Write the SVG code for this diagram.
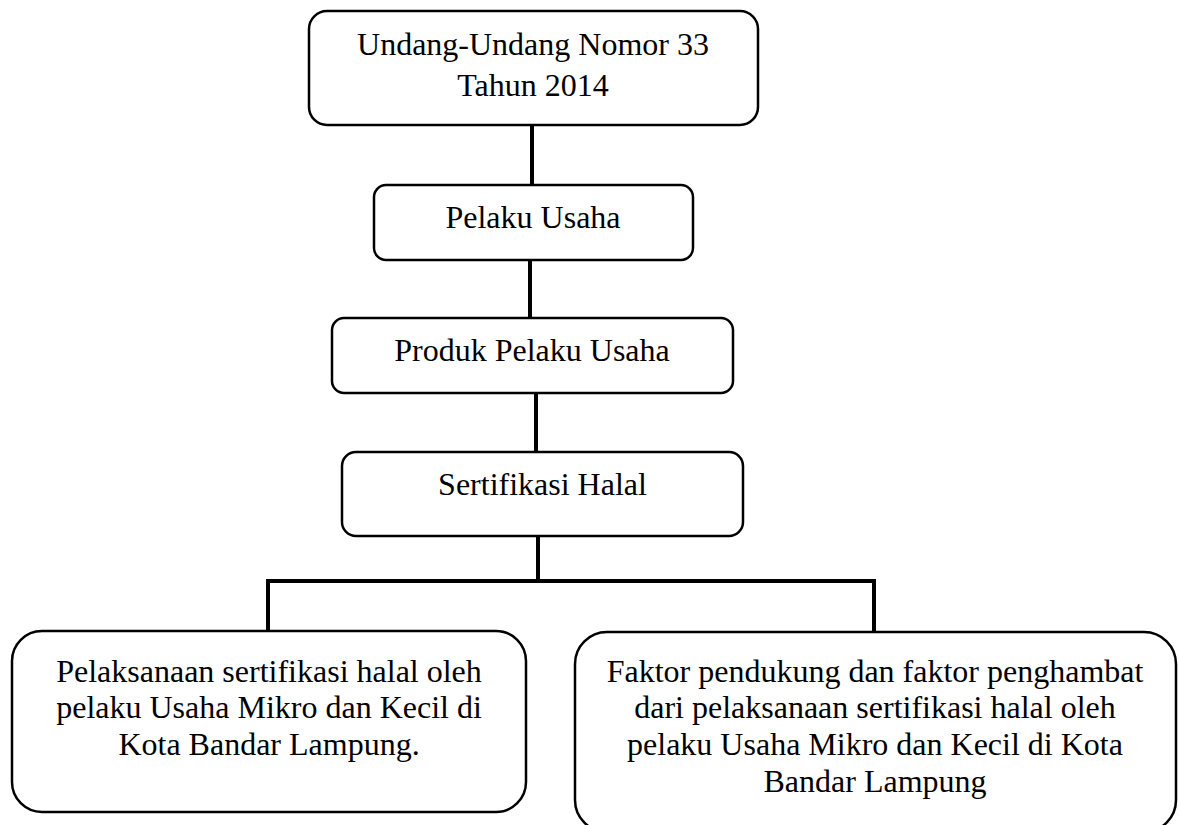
<svg xmlns="http://www.w3.org/2000/svg" width="1179" height="825" viewBox="0 0 1179 825">
  <style>
    .box { fill: #ffffff; stroke: #000000; stroke-width: 2.5; }
    .conn { stroke: #000000; stroke-width: 4; fill: none; stroke-linecap: butt; }
    .t { font-family: "Liberation Serif", "Times New Roman", serif; font-size: 32px; fill: #000000; text-anchor: middle; }
  </style>
  <rect x="0" y="0" width="1179" height="825" fill="#ffffff"/>
  <g id="connectors">
    <line class="conn" x1="532" y1="125" x2="532" y2="185"/>
    <line class="conn" x1="530" y1="260" x2="530" y2="318"/>
    <line class="conn" x1="536" y1="393" x2="536" y2="452"/>
    <line class="conn" x1="538" y1="536" x2="538" y2="581"/>
    <polyline class="conn" points="268,631 268,581 874,581 874,632"/>
  </g>
  <g id="node-uu">
    <rect class="box" x="309" y="11" width="449" height="114" rx="18" ry="18"/>
    <text class="t" x="533" y="55">Undang-Undang Nomor 33</text>
    <text class="t" x="533" y="96">Tahun 2014</text>
  </g>
  <g id="node-pelaku">
    <rect class="box" x="374" y="185" width="319" height="75" rx="12" ry="12"/>
    <text class="t" x="533" y="228">Pelaku Usaha</text>
  </g>
  <g id="node-produk">
    <rect class="box" x="332" y="318" width="401" height="75" rx="12" ry="12"/>
    <text class="t" x="532" y="361">Produk Pelaku Usaha</text>
  </g>
  <g id="node-sertifikasi">
    <rect class="box" x="342" y="452" width="401" height="84" rx="14" ry="14"/>
    <text class="t" x="542.5" y="495">Sertifikasi Halal</text>
  </g>
  <g id="node-pelaksanaan">
    <rect class="box" x="12" y="631" width="514" height="181" rx="30" ry="30"/>
    <text class="t" x="269" y="682">Pelaksanaan sertifikasi halal oleh</text>
    <text class="t" x="269" y="718">pelaku Usaha Mikro dan Kecil di</text>
    <text class="t" x="269" y="755">Kota Bandar Lampung.</text>
  </g>
  <g id="node-faktor">
    <rect class="box" x="575" y="632" width="601" height="200" rx="32" ry="32"/>
    <text class="t" x="875" y="682">Faktor pendukung dan faktor penghambat</text>
    <text class="t" x="875" y="718">dari pelaksanaan sertifikasi halal oleh</text>
    <text class="t" x="875" y="755">pelaku Usaha Mikro dan Kecil di Kota</text>
    <text class="t" x="875" y="792">Bandar Lampung</text>
  </g>
</svg>
